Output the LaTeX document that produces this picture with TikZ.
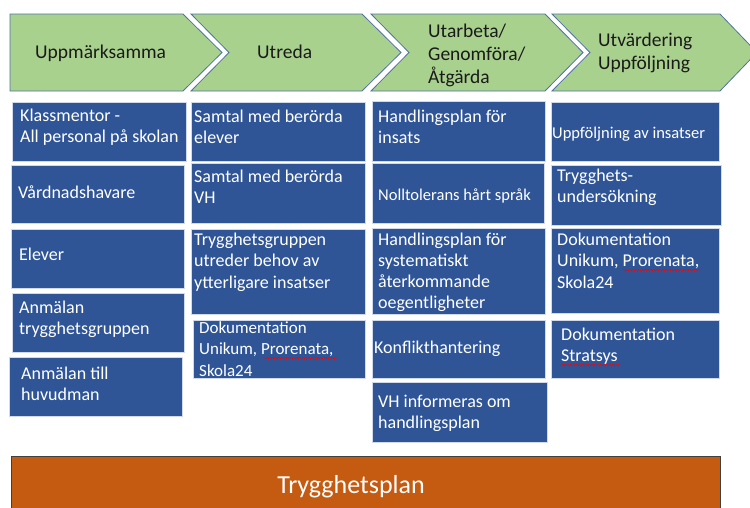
\documentclass[tikz,border=0pt]{standalone}
\usepackage{fontspec}
\setmainfont{Carlito}
\usetikzlibrary{decorations.pathmorphing}
\definecolor{chevgreen}{HTML}{A9D18E}
\definecolor{chevline}{HTML}{4F71A8}
\definecolor{boxblue}{HTML}{2F5597}
\definecolor{boxline}{HTML}{D0DAEA}
\definecolor{planorange}{HTML}{C55A11}
\definecolor{planline}{HTML}{404040}
\definecolor{darktext}{HTML}{1A1A1A}
\newcommand{\ml}[1]{\begin{tabular}[t]{@{}l@{}}#1\end{tabular}}
\newcommand{\bx}[5]{\node[bbox, anchor=north west, minimum width={(#4-#2)*1pt}, minimum height={(#5-#3)*1pt}] (#1) at (#2,#3) {};}
\tikzset{
  chev/.style={fill=chevgreen, draw=chevline, line width=0.8pt, line join=miter},
  chevtext/.style={inner sep=0pt, anchor=base west, text=darktext, font=\fontsize{19.5}{23}\selectfont},
  bbox/.style={fill=boxblue, draw=boxline, line width=0.7pt, inner sep=0pt, outer sep=0pt},
  wtext/.style={inner sep=0pt, anchor=base west, text=white, font=\fontsize{18}{21.5}\selectfont},
  wsmall/.style={wtext, font=\fontsize{16.5}{21}\selectfont},
  squig/.style={red, line width=0.6pt, decorate, decoration={snake, amplitude=0.7pt, segment length=3pt}},
  obar/.style={fill=planorange, draw=planline, line width=0.8pt, inner sep=0pt}
}
\begin{document}
\begin{tikzpicture}[x=1pt, y=-1pt]
\clip (0,0) rectangle (750,507);
\fill[white] (0,0) rectangle (750,507);
% chevrons
\path[chev] (10,14) -- (183,14) -- (222,52.5) -- (183,91) -- (10,91) -- cycle;
\path[chev] (191,14) -- (362,14) -- (401,52.5) -- (362,91) -- (191,91) -- (229,52.5) -- cycle;
\path[chev] (371,14) -- (545,14) -- (583,52.5) -- (545,91) -- (371,91) -- (409,52.5) -- cycle;
\path[chev] (552,14) -- (720,14) -- (757,52.5) -- (720,91) -- (552,91) -- (590,52.5) -- cycle;
\node[chevtext] (ch1) at (35,58) {Uppmärksamma};
\node[chevtext] (ch2) at (257,58) {Utreda};
\node[chevtext] (ch3) at (428,37) {\ml{Utarbeta/\\Genomföra/\\Åtgärda}};
\node[chevtext] (ch4) at (598,46) {\ml{Utvärdering\\Uppföljning}};
% column 1
\bx{b1}{12}{102}{186}{161}
\bx{b2}{11}{165}{184}{223}
\bx{b3}{11}{229}{184}{288}
\bx{b4}{12}{293}{184}{352}
\bx{b5}{9}{357}{182}{416}
\node[wtext] (b1t) at (20,121) {\ml{Klassmentor -\\All personal på skolan}};
\node[wtext] (b2t) at (18,198) {Vårdnadshavare};
\node[wtext] (b3t) at (19,260) {Elever};
\node[wtext] (b4t) at (19,313) {\ml{Anmälan\\trygghetsgruppen}};
\node[wtext] (b5t) at (21,379) {\ml{Anmälan till\\huvudman}};
% column 2
\bx{c1}{191}{102}{365}{161}
\bx{c2}{191}{163}{365}{223}
\bx{c3}{191}{229}{365}{314}
\bx{c4}{193}{320}{365}{378}
\node[wtext] (c1t) at (194,122) {\ml{Samtal med berörda\\elever}};
\node[wtext] (c2t) at (194,182) {\ml{Samtal med berörda\\VH}};
\node[wtext] (c3t) at (194,245) {\ml{Trygghetsgruppen\\utreder behov av\\ytterligare insatser}};
\node[wtext, font=\fontsize{17}{21.5}\selectfont] (c4t) at (199,333) {\ml{Dokumentation\\Unikum, Prorenata,\\Skola24}};
% column 3
\bx{d1}{372}{101}{545}{161}
\bx{d2}{372}{163}{544}{223}
\bx{d3}{372}{228}{545}{314}
\bx{d4}{372}{320}{545}{378}
\bx{d5}{372}{382}{547}{442}
\node[wtext] (d1t) at (378,122) {\ml{Handlingsplan för\\insats}};
\node[wsmall] (d2t) at (378,200) {Nolltolerans hårt språk};
\node[wtext, font=\fontsize{18}{21}\selectfont] (d3t) at (378,245) {\ml{Handlingsplan för\\systematiskt\\återkommande\\oegentligheter}};
\node[wtext] (d4t) at (374,353) {Konflikthantering};
\node[wtext] (d5t) at (378,407) {\ml{VH informeras om\\handlingsplan}};
% column 4
\bx{e1}{551}{102}{719}{161}
\bx{e2}{551}{165}{721}{225}
\bx{e3}{551}{228}{719}{313}
\bx{e4}{551}{320}{719}{378}
\node[wsmall] (e1t) at (552,138) {Uppföljning av insatser};
\node[wtext] (e2t) at (557,181) {\ml{Trygghets-\\undersökning}};
\node[wtext] (e3t) at (557,245) {\ml{Dokumentation\\Unikum, Prorenata,\\Skola24}};
\node[wtext] (e4t) at (561,340) {\ml{Dokumentation\\Stratsys}};
% spell-check squiggles
\draw[squig] (263,358) -- (337,358);
\draw[squig] (623,270) -- (700,270);
\draw[squig] (561,365) -- (620,365);
% bottom bar
\node[obar, anchor=north west, minimum width=709pt, minimum height=60pt] (plan) at (10.7,456) {};
\node[inner sep=0pt, anchor=base, text=white, font=\fontsize{26}{30}\selectfont] (plant) at (351,493) {Trygghetsplan};
\end{tikzpicture}
\end{document}
